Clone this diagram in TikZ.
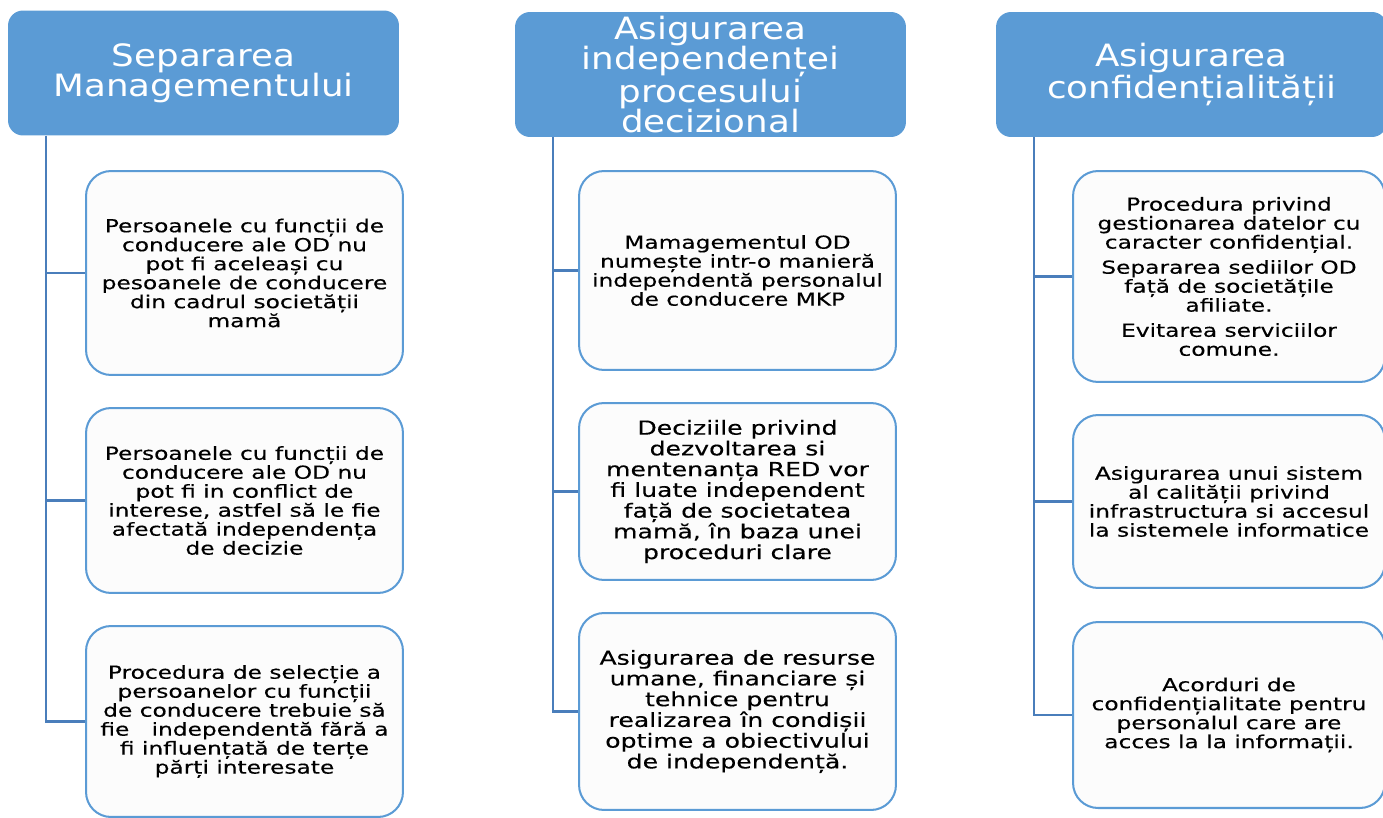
\documentclass[tikz,border=0pt]{standalone}
\usepackage{fontspec}
\newfontfamily\headfont{DejaVu Sans}[FakeStretch=1.16]
\newfontfamily\boxfont{DejaVu Sans}[FakeStretch=1.30, FakeBold=0.35]
\definecolor{headblue}{HTML}{5B9BD5}
\definecolor{linkblue}{HTML}{4A7EBB}
\definecolor{boxfill}{HTML}{FCFCFC}
\tikzstyle{head} = [rectangle, rounded corners=.3cm, minimum width=7.82cm, minimum height=2.5cm, inner sep=1pt, align=center, fill=headblue, text=white, font=\headfont\fontsize{17.5}{17}\selectfont]
\tikzstyle{item} = [rectangle, rounded corners=.5cm, minimum width=6.34cm, inner sep=2pt, align=center, draw=headblue, line width=1.15pt, fill=boxfill, font=\boxfont\fontsize{10.2}{10.8}\selectfont]
\tikzstyle{big} = [font=\boxfont\fontsize{11}{11.8}\selectfont]
\tikzstyle{link} = [line width=1.3pt, draw=linkblue, -]

\begin{document}
\begin{tikzpicture}[x=.02cm, y=-.02cm]
\useasboundingbox (0,0) rectangle (1383,818);

\node (mgmt) [head] at (203.5,73) {Separarea\\Managementului};
	\node (mgmtA) [item, minimum height=4.08cm] at (244.5,273) {Persoanele cu funcții de\\conducere ale OD nu\\pot fi aceleași cu\\pesoanele de conducere\\din cadrul societății\\mamă};
	\node (mgmtB) [item, minimum height=3.7cm] at (244.5,500.5) {Persoanele cu funcții de\\conducere ale OD nu\\pot fi in conflict de\\interese, astfel să le fie\\afectată independența\\de decizie};
	\node (mgmtC) [item, minimum height=3.82cm] at (244.5,721.5) {Procedura de selecție a\\persoanelor cu funcții\\de conducere trebuie să\\fie\ \ \ independentă fără a\\fi influențată de terțe\\părți interesate};
%
\node (indep) [head] at (710.5,74.5) {Asigurarea\\independenței\\procesului\\decizional};
	\node (indepA) [item, minimum height=3.98cm] at (737.5,270.5) {Mamagementul OD\\numește intr-o manieră\\independentă personalul\\de conducere MKP};
	\node (indepB) [item, big, minimum height=3.54cm] at (737.5,491.5) {Deciziile privind\\dezvoltarea si\\mentenanța RED vor\\fi luate independent\\față de societatea\\mamă, în baza unei\\proceduri clare};
	\node (indepC) [item, big, minimum height=3.94cm] at (737.5,711.5) {Asigurarea de resurse\\umane, financiare și\\tehnice pentru\\realizarea în condișii\\optime a obiectivului\\de independență.};
%
\node (confid) [head] at (1191.5,74.5) {Asigurarea\\confidențialității};
	\node (confidA) [item, minimum width=6.24cm, minimum height=4.22cm] at (1229,276.5) {Procedura privind\\gestionarea datelor cu\\caracter confidențial.\\[3.5pt]Separarea sediilor OD\\față de societățile\\afiliate.\\[3.5pt]Evitarea serviciilor\\comune.};
	\node (confidB) [item, minimum width=6.24cm, minimum height=3.46cm] at (1229,501.5) {Asigurarea unui sistem\\al calității privind\\infrastructura si accesul\\la sistemele informatice};
	\node (confidC) [item, minimum width=6.24cm, minimum height=3.72cm] at (1229,715) {Acorduri de\\confidențialitate pentru\\personalul care are\\acces la la informații.};
%
\draw [link] ([xshift=.76cm]mgmt.south west) |- (mgmtA.west);
\draw [link] ([xshift=.76cm]mgmt.south west) |- (mgmtB.west);
\draw [link] ([xshift=.76cm]mgmt.south west) |- (mgmtC.west);
\draw [link] ([xshift=.76cm]indep.south west) |- (indepA.west);
\draw [link] ([xshift=.76cm]indep.south west) |- (indepB.west);
\draw [link] ([xshift=.76cm]indep.south west) |- (indepC.west);
\draw [link] ([xshift=.76cm]confid.south west) |- (confidA.west);
\draw [link] ([xshift=.76cm]confid.south west) |- (confidB.west);
\draw [link] ([xshift=.76cm]confid.south west) |- (confidC.west);
\end{tikzpicture}
\end{document}
